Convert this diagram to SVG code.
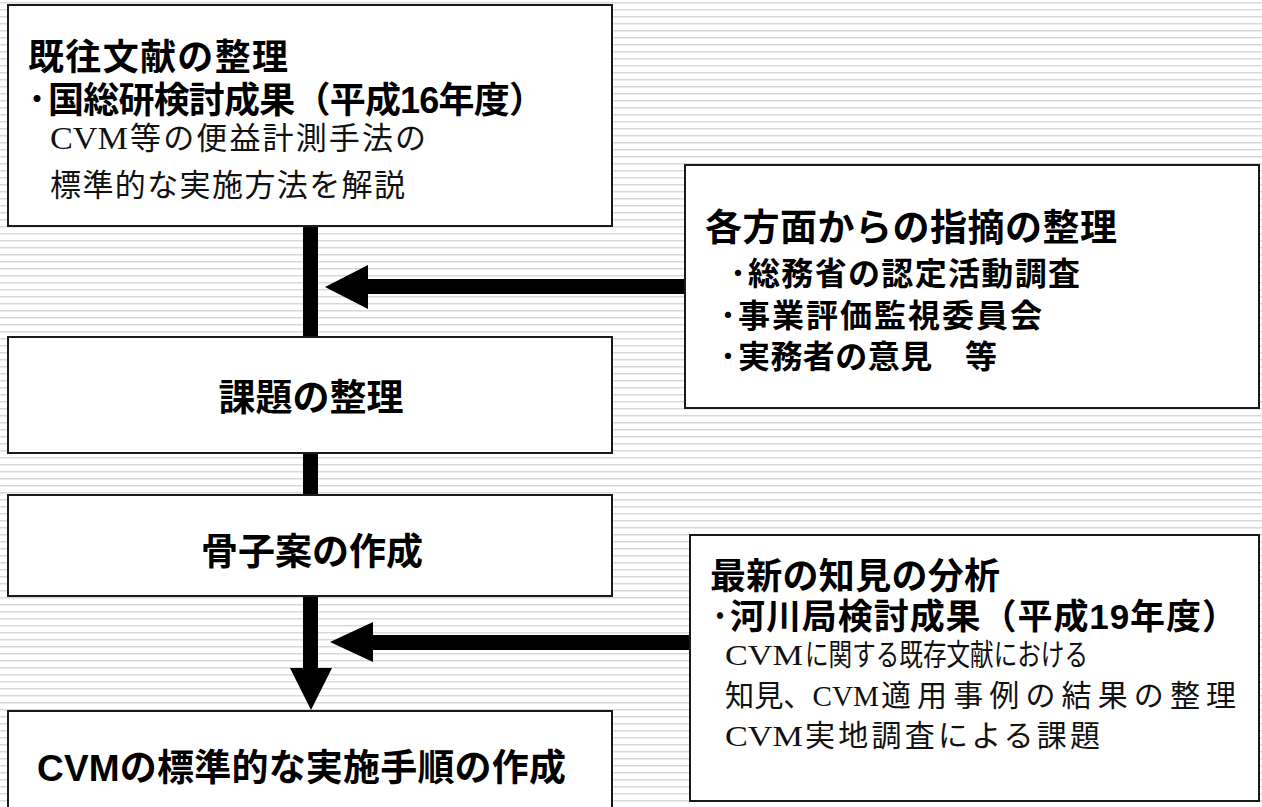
<svg xmlns="http://www.w3.org/2000/svg" width="1262" height="807" viewBox="0 0 1262 807">
  <defs>
    <pattern id="stripes" x="0" y="0" width="8" height="7" patternUnits="userSpaceOnUse">
      <rect x="0" y="0" width="8" height="7" fill="#ffffff"/>
      <rect x="0" y="2" width="8" height="1" fill="#d8d8d8"/>
      <rect x="0" y="3" width="8" height="1" fill="#ececec"/>
    </pattern>
    <style>
      .box { fill: #ffffff; stroke: #1a1a1a; stroke-width: 2; }
      .bold { font-family: "Liberation Sans", "Noto Sans CJK JP", sans-serif; font-weight: bold; fill: #000; }
      .ser { font-family: "Liberation Serif", "Noto Sans CJK JP", serif; fill: #111; }
      .bar { fill: #000; }
    </style>
  </defs>
  <rect x="0" y="0" width="1262" height="807" fill="url(#stripes)"/>

  <g id="connectors">
    <rect class="bar" x="303" y="226" width="15" height="111"/>
    <polygon class="bar" points="685,279 368,279 368,265 325,287 368,309 368,294 685,294"/>
    <rect class="bar" x="303" y="453" width="15" height="42"/>
    <rect class="bar" x="303" y="596" width="15" height="73"/>
    <polygon class="bar" points="290,668 332,668 311,710"/>
    <polygon class="bar" points="690,635 373,635 373,622 330,642 373,662 373,650 690,650"/>
  </g>

  <g id="node-kizon">
    <rect class="box" x="8" y="5" width="604" height="221"/>
    <text class="bold" x="28" y="70" font-size="36" textLength="260" lengthAdjust="spacing">既往文献の整理</text>
    <text class="bold" y="113" font-size="36"><tspan x="28" textLength="18" lengthAdjust="spacingAndGlyphs">･</tspan><tspan x="48" textLength="497" lengthAdjust="spacing">国総研検討成果（平成16年度）</tspan></text>
    <text class="ser" y="149" font-size="31"><tspan x="50" textLength="78" lengthAdjust="spacingAndGlyphs">CVM</tspan><tspan x="130" textLength="296" lengthAdjust="spacing">等の便益計測手法の</tspan></text>
    <text class="ser" x="50" y="196" font-size="31" textLength="355" lengthAdjust="spacing">標準的な実施方法を解説</text>
  </g>

  <g id="node-kadai">
    <rect class="box" x="8" y="337" width="604" height="116"/>
    <text class="bold" x="311" y="411" font-size="37" text-anchor="middle">課題の整理</text>
  </g>

  <g id="node-kosshi">
    <rect class="box" x="8" y="495" width="604" height="101"/>
    <text class="bold" x="312" y="565" font-size="37" text-anchor="middle">骨子案の作成</text>
  </g>

  <g id="node-cvm">
    <rect class="box" x="8" y="711" width="604" height="100"/>
    <text class="bold" x="37" y="781" font-size="37" textLength="529" lengthAdjust="spacing">CVMの標準的な実施手順の作成</text>
  </g>

  <g id="node-shiteki">
    <rect class="box" x="685" y="165" width="574" height="243"/>
    <text class="bold" x="705" y="241" font-size="37" textLength="412" lengthAdjust="spacing">各方面からの指摘の整理</text>
    <text class="bold" y="285" font-size="32"><tspan x="730" textLength="16" lengthAdjust="spacingAndGlyphs">･</tspan><tspan x="748" textLength="332" lengthAdjust="spacing">総務省の認定活動調査</tspan></text>
    <text class="bold" y="327" font-size="32"><tspan x="720" textLength="16" lengthAdjust="spacingAndGlyphs">･</tspan><tspan x="738" textLength="304" lengthAdjust="spacing">事業評価監視委員会</tspan></text>
    <text class="bold" y="368" font-size="32"><tspan x="720" textLength="16" lengthAdjust="spacingAndGlyphs">･</tspan><tspan x="738" textLength="259" lengthAdjust="spacing">実務者の意見　等</tspan></text>
  </g>

  <g id="node-chiken">
    <rect class="box" x="690" y="535" width="569" height="266"/>
    <text class="bold" x="710" y="589" font-size="36" textLength="290" lengthAdjust="spacing">最新の知見の分析</text>
    <text class="bold" y="629" font-size="35"><tspan x="712" textLength="16" lengthAdjust="spacingAndGlyphs">･</tspan><tspan x="730" textLength="507" lengthAdjust="spacing">河川局検討成果（平成19年度）</tspan></text>
    <text class="ser" y="665" font-size="30"><tspan x="725" textLength="78" lengthAdjust="spacingAndGlyphs">CVM</tspan><tspan x="805" textLength="283" lengthAdjust="spacingAndGlyphs">に関する既存文献における</tspan></text>
    <text class="ser" y="706" font-size="30"><tspan x="725" textLength="154" lengthAdjust="spacingAndGlyphs">知見、CVM</tspan><tspan x="881" textLength="355" lengthAdjust="spacing">適用事例の結果の整理</tspan></text>
    <text class="ser" y="746" font-size="30"><tspan x="725" textLength="78" lengthAdjust="spacingAndGlyphs">CVM</tspan><tspan x="805" textLength="295" lengthAdjust="spacing">実地調査による課題</tspan></text>
  </g>
</svg>
